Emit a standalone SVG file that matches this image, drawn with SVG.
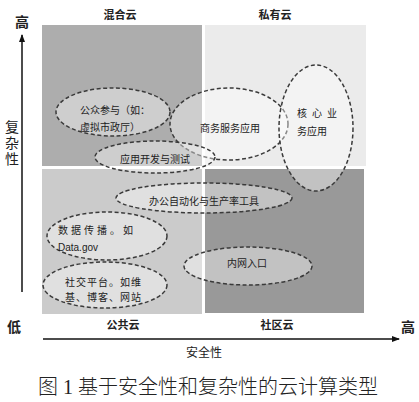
<svg xmlns="http://www.w3.org/2000/svg" width="419" height="402" viewBox="0 0 419 402">
<defs>
<style>
.t{font-family:"Liberation Sans","Noto Sans CJK SC",sans-serif;fill:#222;}
.lbl{font-size:10px;}
.hd{font-size:11px;font-weight:bold;}
.ax{font-size:14px;font-weight:bold;}
.el{fill:#ffffff;fill-opacity:0.4;stroke:#3a3a3a;stroke-width:1.5;stroke-dasharray:4 2.5;}
.cap{font-family:"Liberation Serif","Noto Sans CJK SC",serif;font-size:20px;fill:#222;font-weight:300;}
</style>
<marker id="ah" markerWidth="8" markerHeight="8" refX="7" refY="4" orient="auto" markerUnits="userSpaceOnUse">
<path d="M0,1 L8,4 L0,7 Z" fill="#111"/>
</marker>
</defs>
<rect width="419" height="402" fill="#ffffff"/>
<g id="quadrants">
<rect x="42" y="25" width="160" height="141" fill="#adadad"/>
<rect x="205" y="25" width="161" height="141" fill="#ebebeb"/>
<rect x="42" y="169" width="160" height="145" fill="#cbcbcb"/>
<rect x="205" y="169" width="159" height="144" fill="#999999"/>
</g>
<g id="connectors">
<line x1="22" y1="292" x2="22" y2="35" stroke="#111" stroke-width="1.5" marker-end="url(#ah)"/>
<line x1="43" y1="339" x2="399" y2="339" stroke="#111" stroke-width="1.5" marker-end="url(#ah)"/>
</g>
<g id="axis-labels">
<text class="t ax" x="22" y="27" text-anchor="middle">高</text>
<text class="t" x="12" y="132" text-anchor="middle" font-size="14">复</text>
<text class="t" x="12" y="148" text-anchor="middle" font-size="14">杂</text>
<text class="t" x="12" y="164" text-anchor="middle" font-size="14">性</text>
<text class="t ax" x="14" y="332" text-anchor="middle">低</text>
<text class="t ax" x="408" y="332" text-anchor="middle">高</text>
<text class="t hd" x="120" y="19" text-anchor="middle">混合云</text>
<text class="t hd" x="275" y="19" text-anchor="middle">私有云</text>
<text class="t hd" x="123" y="329" text-anchor="middle">公共云</text>
<text class="t hd" x="277" y="329" text-anchor="middle">社区云</text>
<text class="t" x="204" y="357" text-anchor="middle" font-size="12">安全性</text>
</g>
<g id="n-gongzhong">
<ellipse class="el" cx="113" cy="112" rx="57" ry="24"/>
<text class="t lbl" x="80" y="114">公众参与（如：</text>
<text class="t lbl" x="80" y="131">虚拟市政厅）</text>
</g>
<g id="n-shangwu">
<ellipse class="el" cx="229" cy="124" rx="59" ry="36"/>
<text class="t lbl" x="230" y="132" text-anchor="middle">商务服务应用</text>
</g>
<g id="n-hexin">
<ellipse class="el" cx="316" cy="128" rx="37" ry="63"/>
<text class="t lbl" x="297" y="117" letter-spacing="5">核心业</text>
<text class="t lbl" x="297" y="135">务应用</text>
</g>
<g id="n-kaifa">
<ellipse class="el" cx="155" cy="157" rx="60" ry="16"/>
<text class="t lbl" x="155" y="163" text-anchor="middle">应用开发与测试</text>
</g>
<g id="n-bangong">
<ellipse class="el" cx="204" cy="198" rx="88" ry="15"/>
<text class="t lbl" x="204" y="205" text-anchor="middle">办公自动化与生产率工具</text>
</g>
<g id="n-shuju">
<ellipse class="el" cx="107" cy="236" rx="60" ry="24"/>
<text class="t lbl" x="58" y="234" letter-spacing="3">数据传播。如</text>
<text class="t lbl" x="58" y="251" font-family="Liberation Mono,monospace" font-size="10">Data.gov</text>
</g>
<g id="n-shejiao">
<ellipse class="el" cx="105" cy="285" rx="62" ry="23"/>
<text class="t lbl" x="65" y="286" letter-spacing="1">社交平台。如维</text>
<text class="t lbl" x="65" y="301" letter-spacing="1">基、博客、网站</text>
</g>
<g id="n-neiwang">
<ellipse class="el" cx="248" cy="266" rx="64" ry="19"/>
<text class="t lbl" x="247" y="267" text-anchor="middle">内网入口</text>
</g>
<text class="cap" x="208" y="394" text-anchor="middle">图 1 基于安全性和复杂性的云计算类型</text>
</svg>
